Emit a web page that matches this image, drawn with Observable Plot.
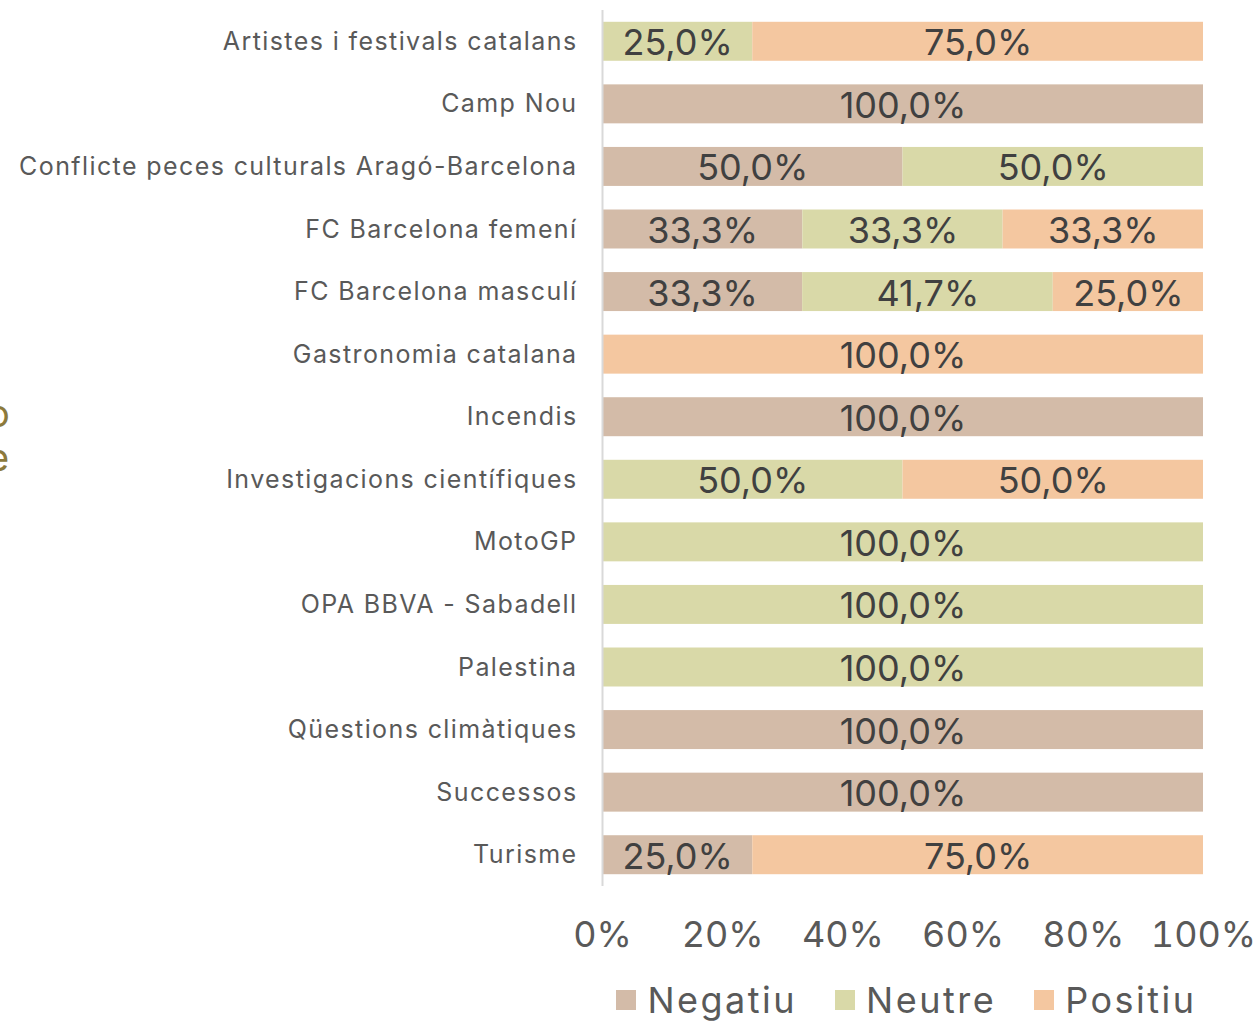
<!DOCTYPE html>
<html>
<head>
<meta charset="utf-8">
<script src="https://cdn.jsdelivr.net/npm/d3@7"></script>
<script src="https://cdn.jsdelivr.net/npm/@observablehq/plot@0.6"></script>
<style>
  body { margin: 0; background: #fff; font-family: Inter, "Open Sans", sans-serif; }
  #wrap { position: relative; width: 1255px; height: 1021px; overflow: hidden; }
  .frag { position: absolute; left: -13px; color: #8c7a3c; font-size: 38px; line-height: 40px; }
  #legend { position: absolute; left: 606px; top: 978px; width: 601px; display: flex; justify-content: center; font-size: 36px; letter-spacing: 2.5px; color: #595959; }
  .item { display: flex; align-items: center; margin: 0 19px; white-space: nowrap; }
  .sw { width: 20px; height: 20px; margin-right: 11px; }
  #chart svg g[aria-label="y-axis tick label"] text { letter-spacing: 1.4px; }
</style>
</head>
<body>
<div id="wrap">
  <div id="chart"></div>
  <div class="frag" style="top:393px">o</div>
  <div class="frag" style="top:437px">e</div>
  <div id="legend"></div>
</div>
<script>
const categories = [
  "Artistes i festivals catalans",
  "Camp Nou",
  "Conflicte peces culturals Aragó-Barcelona",
  "FC Barcelona femení",
  "FC Barcelona masculí",
  "Gastronomia catalana",
  "Incendis",
  "Investigacions científiques",
  "MotoGP",
  "OPA BBVA - Sabadell",
  "Palestina",
  "Qüestions climàtiques",
  "Successos",
  "Turisme"
];
const negatiu = [0, 100, 50, 33.33, 33.3, 0, 100, 0, 0, 0, 0, 100, 100, 25];
const neutre  = [25, 0, 50, 33.33, 41.7, 0, 0, 50, 100, 100, 100, 0, 0, 0];
const positiu = [75, 0, 0, 33.34, 25, 100, 0, 50, 0, 0, 0, 0, 0, 75];
const seriesNames = ["Negatiu", "Neutre", "Positiu"];
const seriesColors = ["#d3bba8", "#d9d9a8", "#f4c7a0"];
const xTicks = [0, 20, 40, 60, 80, 100];

const seriesValues = [negatiu, neutre, positiu];
const data = [];
categories.forEach((c, i) => {
  seriesNames.forEach((s, j) => {
    const v = seriesValues[j][i];
    if (v > 0) data.push({cat: c, sentiment: s, value: v});
  });
});
const fmt = v => d3.format(".1f")(v).replace(".", ",") + "%";

const chart = Plot.plot({
  width: 1255,
  height: 970,
  marginTop: 10,
  marginBottom: 84,
  marginLeft: 602,
  marginRight: 52,
  style: {fontFamily: "Inter, 'Open Sans', sans-serif", color: "#595959", background: "#fff"},
  x: {domain: [0, 100]},
  y: {domain: categories, paddingInner: 0.377, paddingOuter: 0.1885, round: false},
  color: {domain: seriesNames, range: seriesColors},
  marks: [
    Plot.barX(data, Plot.stackX({x: "value", y: "cat", fill: "sentiment", order: seriesNames})),
    Plot.textX(data, Plot.stackX({x: "value", y: "cat", z: "sentiment", order: seriesNames, text: d => fmt(d.value), fill: "#404040", fontSize: 36, dy: 2})),
    Plot.ruleX([0], {stroke: "#d9d9d9", strokeWidth: 2}),
    Plot.axisY({tickSize: 0, tickPadding: 25, fontSize: 25, label: null}),
    Plot.axisX({ticks: xTicks, tickFormat: d => d + "%", tickSize: 0, tickPadding: 35, fontSize: 36, label: null})
  ]
});
document.getElementById("chart").appendChild(chart);

const legend = document.getElementById("legend");
seriesNames.forEach((s, j) => {
  const it = document.createElement("div");
  it.className = "item";
  const sw = document.createElement("span");
  sw.className = "sw";
  sw.style.background = seriesColors[j];
  const t = document.createElement("span");
  t.textContent = s;
  it.appendChild(sw); it.appendChild(t);
  legend.appendChild(it);
});
</script>
</body>
</html>
